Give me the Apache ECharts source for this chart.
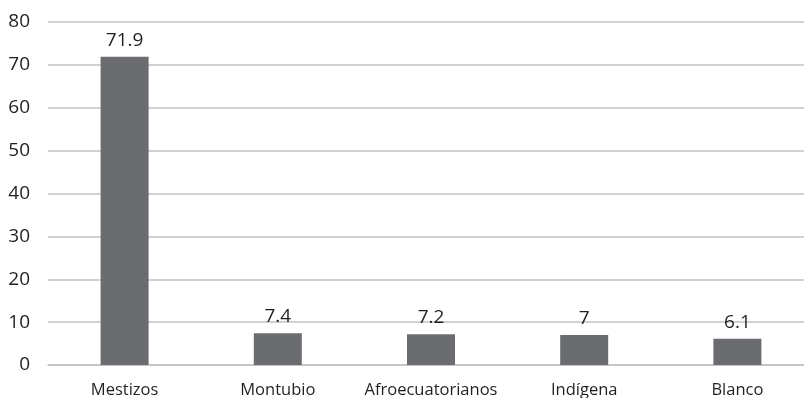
<!DOCTYPE html>
<html>
<head>
<meta charset="utf-8">
<script src="https://cdn.jsdelivr.net/npm/echarts@6/dist/echarts.min.js"></script>
<style>
  html, body { margin: 0; padding: 0; background: #fff; }
  #chart { width: 804px; height: 398px; }
</style>
</head>
<body>
<div id="chart"></div>
<script>
// Population share by self-identified ethnic group (%)
const categories = ['Mestizos', 'Montubio', 'Afroecuatorianos', 'Indígena', 'Blanco'];
const values = [71.9, 7.4, 7.2, 7, 6.1];
const yTicks = [0, 10, 20, 30, 40, 50, 60, 70, 80];

const textColor = '#231f20';
const fontFamily = '"Open Sans", "Noto Sans", sans-serif';

const chart = echarts.init(document.getElementById('chart'), null, { renderer: 'canvas' });
chart.setOption({
  animation: false,
  backgroundColor: '#ffffff',
  grid: { left: 48, right: -10, top: 22, bottom: 33, containLabel: false, outerBoundsMode: 'none' },
  xAxis: {
    type: 'category',
    data: categories,
    axisLine: { show: true, lineStyle: { color: '#c2c2c2', width: 1.5 } },
    axisTick: { show: false },
    axisLabel: { color: textColor, fontFamily, fontSize: 16.5, margin: 17, interval: 0 }
  },
  yAxis: {
    type: 'value',
    min: yTicks[0],
    max: yTicks[yTicks.length - 1],
    interval: yTicks[1] - yTicks[0],
    axisLine: { show: false },
    axisTick: { show: false },
    splitLine: { lineStyle: { color: '#c2c2c2', width: 1.5 } },
    axisLabel: { color: textColor, fontFamily, fontSize: 19, margin: 18 }
  },
  series: [{
    type: 'bar',
    data: values,
    barWidth: 48,
    itemStyle: { color: '#6b6c70' },
    label: {
      show: true,
      position: 'top',
      distance: 7,
      color: textColor,
      fontFamily,
      fontSize: 19
    }
  }]
});
</script>
</body>
</html>
